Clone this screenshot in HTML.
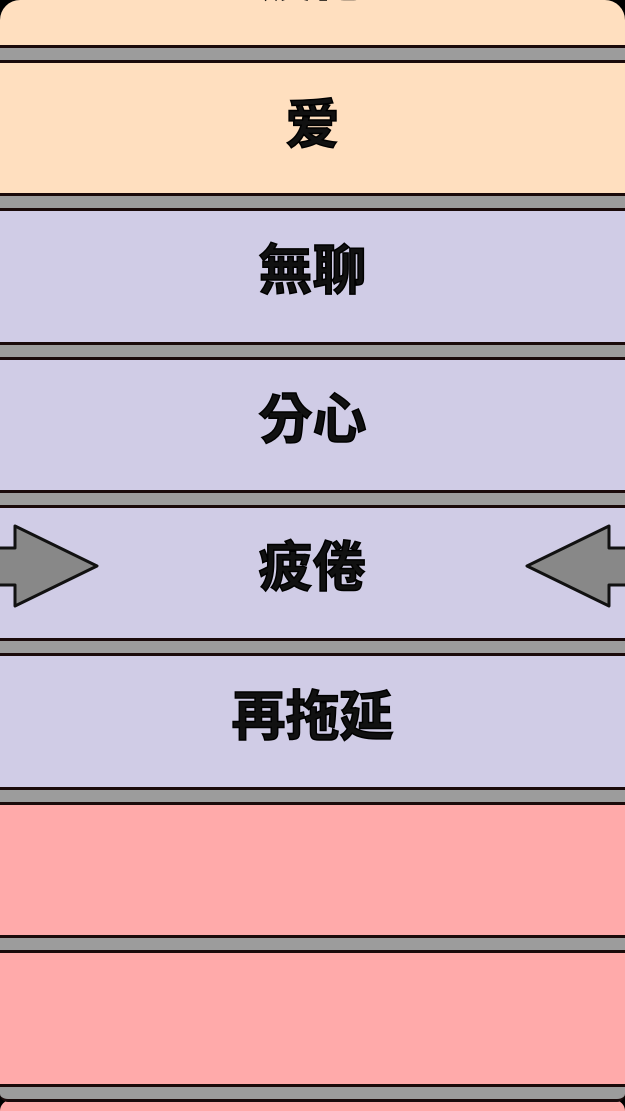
<!DOCTYPE html>
<html><head><meta charset="utf-8"><style>
html,body{margin:0;padding:0;}
body{width:625px;height:1111px;position:relative;overflow:hidden;background:#000;font-family:"Liberation Sans","Noto Sans CJK TC",sans-serif;}
.band{position:absolute;left:0;width:625px;}
.bar{position:absolute;left:0;width:625px;background:#9c9c9c;border-top:3px solid #1a0a0a;border-bottom:3px solid #1a0a0a;box-sizing:border-box;height:18px;}
.t{position:absolute;left:0;width:625px;text-align:center;font-size:54px;font-weight:bold;color:#111;line-height:60px;-webkit-text-stroke:1.5px #000;}
</style></head><body>
<div class="band" style="top:0;height:46px;background:#ffdfbf;border-radius:20px 20px 0 0;"></div>
<div class="t" style="top:-53px;">疲倦</div>
<div class="band" style="top:62px;height:132px;background:#ffdfbf;"></div>
<div class="band" style="top:210px;height:133px;background:#d0cce6;"></div>
<div class="band" style="top:358px;height:133px;background:#d0cce6;"></div>
<div class="band" style="top:507px;height:132px;background:#d0cce6;"></div>
<div class="band" style="top:655px;height:133px;background:#d0cce6;"></div>
<div class="band" style="top:804px;height:132px;background:#ffaaaa;"></div>
<div class="band" style="top:952px;height:133px;background:#ffaaaa;"></div>
<div class="band" style="top:1100px;height:11px;background:#ffaaaa;border-radius:20px 20px 0 0;"></div>
<div class="bar" style="top:45px;"></div>
<div class="bar" style="top:193px;"></div>
<div class="bar" style="top:342px;"></div>
<div class="bar" style="top:490px;"></div>
<div class="bar" style="top:638px;"></div>
<div class="bar" style="top:787px;"></div>
<div class="bar" style="top:935px;"></div>
<div class="bar" style="top:1084px;border-radius:0 0 8px 8px;"></div>
<div class="t" style="top:95px;">爱</div>
<div class="t" style="top:241px;">無聊</div>
<div class="t" style="top:390px;">分心</div>
<div class="t" style="top:538px;">疲倦</div>
<div class="t" style="top:687px;">再拖延</div>
<svg style="position:absolute;left:0;top:0" width="625" height="1111">
<path d="M-5,548 L15,548 L15,526 L97,566 L15,606 L15,585 L-5,585 Z" fill="#888" stroke="#111" stroke-width="3" stroke-linejoin="round"/>
<path d="M630,548 L609,548 L609,526 L527,566 L609,606 L609,585 L630,585 Z" fill="#888" stroke="#111" stroke-width="3" stroke-linejoin="round"/>
</svg>
</body></html>
